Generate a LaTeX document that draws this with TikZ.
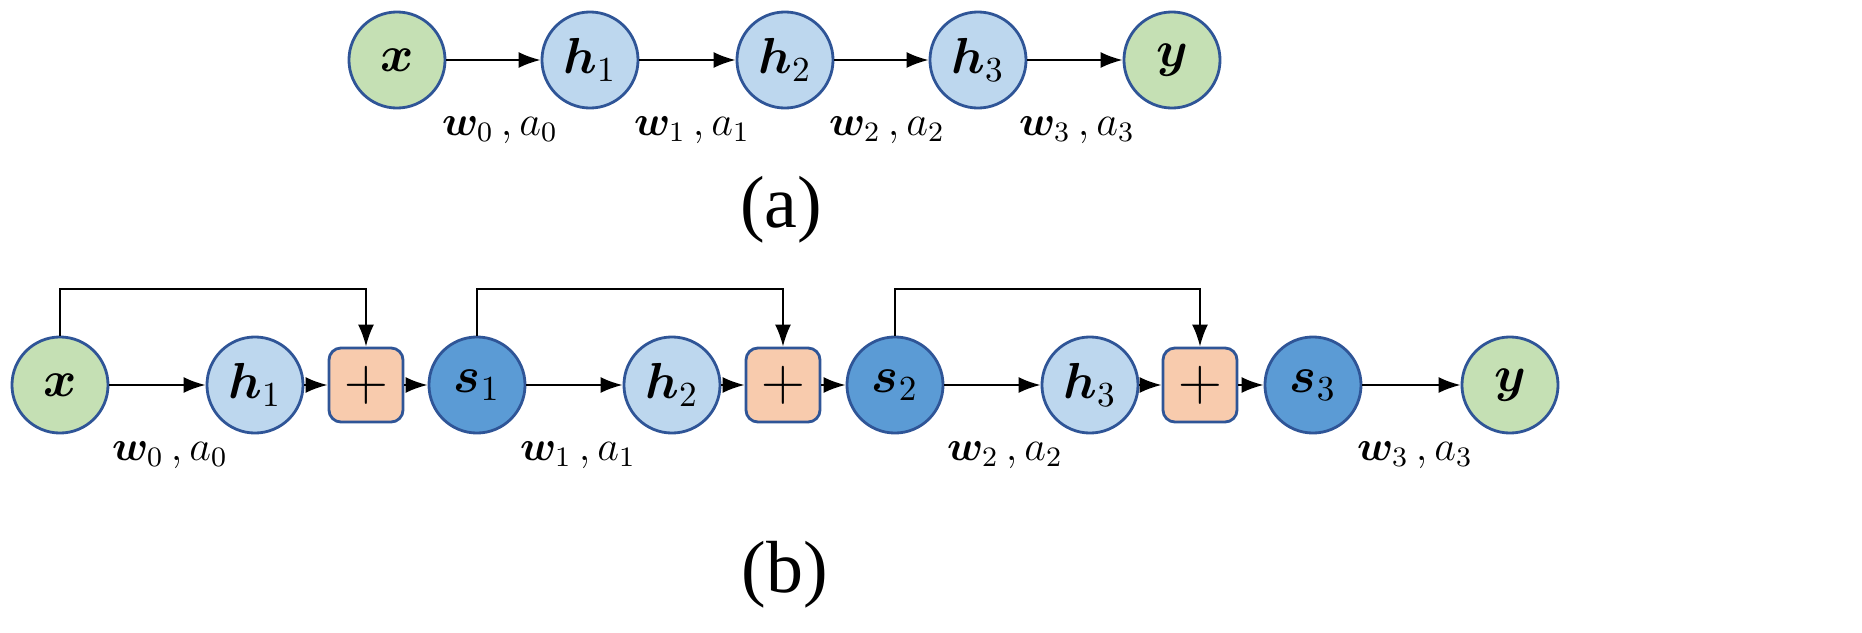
\documentclass[tikz,border=0pt]{standalone}
\usepackage{amsmath, amssymb, bm}
\usepackage{fontspec}
\newfontfamily\capfont{Liberation Serif}
\usetikzlibrary{arrows.meta}
\definecolor{leafgreen}{HTML}{C5E0B4}
\definecolor{paleblue}{HTML}{BDD7EE}
\definecolor{deepblue}{HTML}{5B9BD5}
\definecolor{peach}{HTML}{F8CBAD}
\definecolor{rim}{HTML}{2F5597}
\tikzset{
  unit/.style={circle, draw=rim, thick, minimum size=0.96cm, inner sep=0pt, font=\Large},
  io/.style={unit, fill=leafgreen},
  hid/.style={unit, fill=paleblue},
  sum/.style={unit, fill=deepblue},
  add/.style={draw=rim, thick, fill=peach, rounded corners=1.2mm, minimum size=0.74cm, inner sep=0pt, font=\LARGE},
  link/.style={-{Latex[length=2.2mm,width=1.6mm]}, semithick},
  wts/.style={font=\large},
  subcap/.style={font=\capfont\fontsize{21}{24}\selectfont}
}
\begin{document}
\begin{tikzpicture}[x=0.01cm, y=-0.01cm]
  \useasboundingbox (0,0) rectangle (1862,633);
  % (a) plain chain
  \node[io]  (ax)  at (397,60)  {$\bm{x}$};
  \node[hid] (ah1) at (590,60)  {$\bm{h}_1$};
  \node[hid] (ah2) at (785,60)  {$\bm{h}_2$};
  \node[hid] (ah3) at (978,60)  {$\bm{h}_3$};
  \node[io]  (ay)  at (1172,60) {$\bm{y}$};
  \foreach \a/\b in {ax/ah1, ah1/ah2, ah2/ah3, ah3/ay}
    \draw[link] (\a) -- (\b);
  \foreach \x/\k in {500/0, 692/1, 887/2, 1077/3}
    \node[wts] (aw\k) at (\x,130) {$\bm{w}_\k\,,a_\k$};
  \node[subcap] (capa) at (781,210) {(a)};
  % (b) residual chain
  \node[io]  (bx)  at (60,385)   {$\bm{x}$};
  \node[hid] (bh1) at (255,385)  {$\bm{h}_1$};
  \node[add] (p1)  at (366,385)  {$+$};
  \node[sum] (s1)  at (477,385)  {$\bm{s}_1$};
  \node[hid] (bh2) at (672,385)  {$\bm{h}_2$};
  \node[add] (p2)  at (783,385)  {$+$};
  \node[sum] (s2)  at (895,385)  {$\bm{s}_2$};
  \node[hid] (bh3) at (1090,385) {$\bm{h}_3$};
  \node[add] (p3)  at (1200,385) {$+$};
  \node[sum] (s3)  at (1313,385) {$\bm{s}_3$};
  \node[io]  (by)  at (1510,385) {$\bm{y}$};
  \foreach \a/\b in {bx/bh1, bh1/p1, p1/s1, s1/bh2, bh2/p2, p2/s2, s2/bh3, bh3/p3, p3/s3, s3/by}
    \draw[link] (\a) -- (\b);
  % skip connections
  \foreach \a/\b in {bx/p1, s1/p2, s2/p3}
    \draw[link] (\a.north) -- ++(0,-47) -| (\b.north);
  \foreach \x/\k in {170/0, 578/1, 1005/2, 1415/3}
    \node[wts] (bw\k) at (\x,455) {$\bm{w}_\k\,,a_\k$};
  \node[subcap] (capb) at (785,575) {(b)};
\end{tikzpicture}
\end{document}
